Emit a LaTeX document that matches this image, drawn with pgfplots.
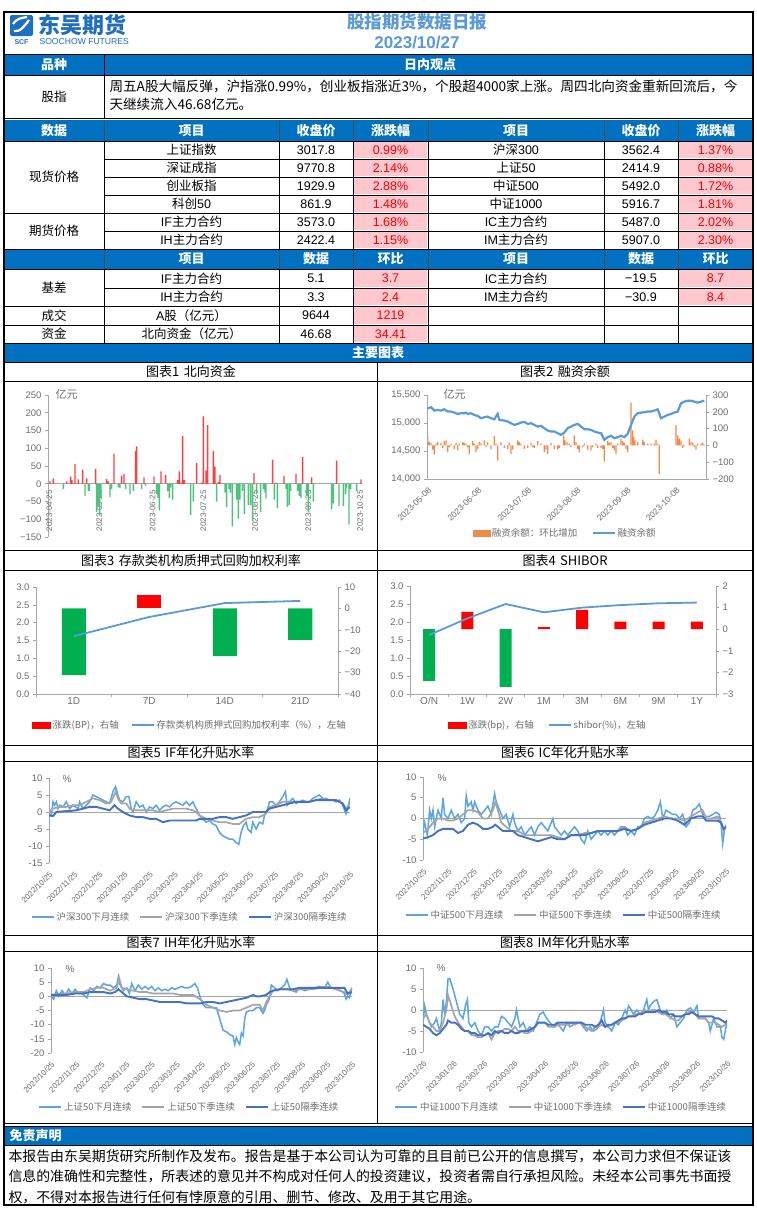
\documentclass[border=0pt]{standalone}
\usepackage{fontspec}
\usepackage{pgfplots}
\pgfplotsset{compat=1.18}
\setmainfont{Liberation Sans}
\newfontfamily\cjk{Noto Sans CJK SC}
\definecolor{hdr}{HTML}{0070C0}
\definecolor{pinkc}{HTML}{FFC7CE}
\definecolor{redt}{HTML}{FF0000}
\definecolor{titleblue}{HTML}{5B9BD5}
\definecolor{barred}{HTML}{FF0000}
\definecolor{bargreen}{HTML}{00B050}
\definecolor{cred}{HTML}{FF4040}
\definecolor{cgreen}{HTML}{4CC27E}
\definecolor{lineblue}{HTML}{5B9BD5}
\definecolor{ltblue}{HTML}{5AA5E2}
\definecolor{graytwo}{HTML}{A5A5A5}
\definecolor{dkblue}{HTML}{4472C4}
\definecolor{orangeb}{HTML}{F08A4B}
\definecolor{axgray}{HTML}{A6A6A6}
\definecolor{tickgray}{HTML}{6E6E6E}
\definecolor{logoblue}{HTML}{1F6FC0}
\pgfplotsset{
  base/.style={scale only axis, anchor=south west,
    axis line style={draw=axgray, line width=0.7pt},
    tick style={draw=axgray, line width=0.6pt},
    tick align=outside, major tick length=3pt,
    scaled y ticks=false, scaled x ticks=false,
    ticklabel style={font=\fontsize{9.5}{10}\selectfont, text=tickgray},
    legend cell align=left},
  lineleg/.style={legend image code/.code={\draw[##1] (0pt,0pt) -- (22pt,0pt);}},
}
\newcommand{\tf}{\fontsize{12.5}{14}\selectfont}
\newcommand{\hf}{\fontsize{13}{14}\selectfont\bfseries}
\begin{document}
\begin{tikzpicture}[x=1pt,y=1pt]
\fill[white] (0,0) rectangle (757,-1210);
% ---------- header ----------
\draw[line width=1.2pt] (4,-12) rectangle (753,-1205);
\draw[line width=0.8pt] (4,-54) -- (753,-54);
\fill[logoblue, rounded corners=2pt] (10,-15) rectangle (33,-36);
\draw[white, line width=2.2pt] (14,-31) .. controls (20,-33) and (26,-24) .. (29,-20);
\draw[white, line width=2.2pt] (13,-24) .. controls (17,-18) and (22,-18) .. (27,-17);
\node[text=logoblue, font=\fontsize{7}{7}\selectfont\bfseries] at (21.5,-42) {SCF};
\node[text=logoblue, font=\cjk\fontsize{22}{23}\selectfont\bfseries, anchor=west] at (35,-25) {东吴期货};
\node[text=logoblue, font=\fontsize{8.6}{9}\selectfont, anchor=west] at (36,-41.5) {SOOCHOW FUTURES};
\node[text=titleblue, font=\cjk\fontsize{17.5}{18}\selectfont\bfseries] at (417,-22) {股指期货数据日报};
\node[text=titleblue, font=\fontsize{17}{18}\selectfont\bfseries] at (417,-43) {2023/10/27};
% blue row 1
\fill[hdr] (4.6,-54.5) rectangle (752.4,-75);
\draw[line width=0.8pt] (4,-75) -- (753,-75);
\draw[line width=0.6pt] (104,-54) -- (104,-118);
\node[text=white, font=\cjk\hf] at (54,-65) {品种};
\node[text=white, font=\cjk\hf] at (430,-65) {日内观点};
\node[font=\cjk\tf] at (54,-97) {股指};
\node[font=\cjk\fontsize{13.6}{15}\selectfont, anchor=west] at (106,-86) {周五A股大幅反弹，沪指涨0.99\%，创业板指涨近3\%，个股超4000家上涨。周四北向资金重新回流后，今};
\node[font=\cjk\fontsize{13.6}{15}\selectfont, anchor=west] at (106,-104) {天继续流入46.68亿元。};
\draw[line width=0.8pt] (4,-118) -- (753,-118);
% ---------- table block 1 ----------
\fill[hdr] (4.6,-119.5) rectangle (752.4,-141);
\foreach \x in {104,279,353,428,604,678} \draw[line width=0.5pt, black!70] (\x,-119.5) -- (\x,-141);
\node[text=white, font=\cjk\hf] at (54,-130.5) {数据};
\node[text=white, font=\cjk\hf] at (191.5,-130.5) {项目};
\node[text=white, font=\cjk\hf] at (316,-130.5) {收盘价};
\node[text=white, font=\cjk\hf] at (390.5,-130.5) {涨跌幅};
\node[text=white, font=\cjk\hf] at (516,-130.5) {项目};
\node[text=white, font=\cjk\hf] at (641,-130.5) {收盘价};
\node[text=white, font=\cjk\hf] at (715.5,-130.5) {涨跌幅};
\foreach \ya/\yb in {141/159,159/177,177/195,195/213,213/231,231/249} {
  \fill[pinkc] (354,-\ya-0.8) rectangle (427.3,-\yb+0.8);
  \fill[pinkc] (679,-\ya-0.8) rectangle (752.3,-\yb+0.8);
}
\foreach \y in {141,159,177,195,213,231,249} \draw[line width=0.7pt] (104,-\y) -- (753,-\y);
\foreach \y in {141,213,249} \draw[line width=0.7pt] (4,-\y) -- (104,-\y);
\foreach \x in {104,279,353,428,604,678} \draw[line width=0.7pt] (\x,-141) -- (\x,-249);
\node[font=\cjk\tf] at (54,-177) {现货价格};
\node[font=\cjk\tf] at (54,-231) {期货价格};
\begin{scope}[every node/.style={font=\tf}]
\node at (191.5,-150) {\cjk 上证指数}; \node at (316,-150) {3017.8}; \node[text=redt] at (390.5,-150) {0.99\%};
\node at (516,-150) {{\cjk 沪深}300}; \node at (641,-150) {3562.4}; \node[text=redt] at (715.5,-150) {1.37\%};
\node at (191.5,-168) {\cjk 深证成指}; \node at (316,-168) {9770.8}; \node[text=redt] at (390.5,-168) {2.14\%};
\node at (516,-168) {{\cjk 上证}50}; \node at (641,-168) {2414.9}; \node[text=redt] at (715.5,-168) {0.88\%};
\node at (191.5,-186) {\cjk 创业板指}; \node at (316,-186) {1929.9}; \node[text=redt] at (390.5,-186) {2.88\%};
\node at (516,-186) {{\cjk 中证}500}; \node at (641,-186) {5492.0}; \node[text=redt] at (715.5,-186) {1.72\%};
\node at (191.5,-204) {{\cjk 科创}50}; \node at (316,-204) {861.9}; \node[text=redt] at (390.5,-204) {1.48\%};
\node at (516,-204) {{\cjk 中证}1000}; \node at (641,-204) {5916.7}; \node[text=redt] at (715.5,-204) {1.81\%};
\node at (191.5,-222) {IF{\cjk 主力合约}}; \node at (316,-222) {3573.0}; \node[text=redt] at (390.5,-222) {1.68\%};
\node at (516,-222) {IC{\cjk 主力合约}}; \node at (641,-222) {5487.0}; \node[text=redt] at (715.5,-222) {2.02\%};
\node at (191.5,-240) {IH{\cjk 主力合约}}; \node at (316,-240) {2422.4}; \node[text=redt] at (390.5,-240) {1.15\%};
\node at (516,-240) {IM{\cjk 主力合约}}; \node at (641,-240) {5907.0}; \node[text=redt] at (715.5,-240) {2.30\%};
\end{scope}
% ---------- table block 2 ----------
\fill[hdr] (4.6,-249.5) rectangle (752.4,-269);
\foreach \x in {104,279,353,428,604,678} \draw[line width=0.5pt, black!70] (\x,-249.5) -- (\x,-269);
\node[text=white, font=\cjk\hf] at (191.5,-259) {项目};
\node[text=white, font=\cjk\hf] at (316,-259) {数据};
\node[text=white, font=\cjk\hf] at (390.5,-259) {环比};
\node[text=white, font=\cjk\hf] at (516,-259) {项目};
\node[text=white, font=\cjk\hf] at (641,-259) {数据};
\node[text=white, font=\cjk\hf] at (715.5,-259) {环比};
\foreach \ya/\yb in {269/288,288/306,306/325,325/343} \fill[pinkc] (354,-\ya-0.8) rectangle (427.3,-\yb+0.8);
\foreach \ya/\yb in {269/288,288/306} \fill[pinkc] (679,-\ya-0.8) rectangle (752.3,-\yb+0.8);
\foreach \y in {269,288,306,325,343} \draw[line width=0.7pt] (104,-\y) -- (753,-\y);
\foreach \y in {269,306,325,343} \draw[line width=0.7pt] (4,-\y) -- (104,-\y);
\foreach \x in {104,279,353,428,604,678} \draw[line width=0.7pt] (\x,-269) -- (\x,-343);
\node[font=\cjk\tf] at (54,-287.5) {基差};
\node[font=\cjk\tf] at (54,-315.5) {成交};
\node[font=\cjk\tf] at (54,-334) {资金};
\begin{scope}[every node/.style={font=\tf}]
\node at (191.5,-278.5) {IF{\cjk 主力合约}}; \node at (316,-278.5) {5.1}; \node[text=redt] at (390.5,-278.5) {3.7};
\node at (516,-278.5) {IC{\cjk 主力合约}}; \node at (641,-278.5) {−19.5}; \node[text=redt] at (715.5,-278.5) {8.7};
\node at (191.5,-297) {IH{\cjk 主力合约}}; \node at (316,-297) {3.3}; \node[text=redt] at (390.5,-297) {2.4};
\node at (516,-297) {IM{\cjk 主力合约}}; \node at (641,-297) {−30.9}; \node[text=redt] at (715.5,-297) {8.4};
\node at (191.5,-315.5) {A{\cjk 股（亿元）}}; \node at (316,-315.5) {9644}; \node[text=redt] at (390.5,-315.5) {1219};
\node at (191.5,-334) {\cjk 北向资金（亿元）}; \node at (316,-334) {46.68}; \node[text=redt] at (390.5,-334) {34.41};
\end{scope}
% ---------- main charts bar ----------
\fill[hdr] (4.6,-343.5) rectangle (752.4,-362);
\node[text=white, font=\cjk\hf] at (378,-352.5) {主要图表};
% panel grid
\foreach \y in {362,381,550,570,745,761,935,951,1123} \draw[line width=0.8pt] (4,-\y) -- (753,-\y);
\draw[line width=0.8pt] (377.5,-362) -- (377.5,-1123);
\begin{scope}[every node/.style={font=\cjk\fontsize{13}{14}\selectfont}]
\node at (191,-371.5) {图表1\,\,北向资金};
\node at (565,-371.5) {图表2\,\,融资余额};
\node at (191,-560.5) {图表3\,\,存款类机构质押式回购加权利率};
\node at (565,-560.5) {图表4\,\,SHIBOR};
\node at (191,-753) {图表5\,\,IF年化升贴水率};
\node at (565,-753) {图表6\,\,IC年化升贴水率};
\node at (191,-943) {图表7\,\,IH年化升贴水率};
\node at (565,-943) {图表8\,\,IM年化升贴水率};
\end{scope}
% ---------- chart 1 ----------
\begin{axis}[base, at={(48pt,-537pt)}, width=314pt, height=142pt,
  xmin=144, xmax=1086, ymin=-150, ymax=250,
  axis y line*=left, axis x line*=middle,
  ytick={-150,-100,-50,0,50,100,150,200,250},
  yticklabels={−150,−100,−50,0,50,100,150,200,250},
  xtick={148,298,458,610,765,925,1080},
  xticklabels={2023-04-25,2023-05-25,2023-06-25,2023-07-25,2023-08-25,2023-09-25,2023-10-25},
  xticklabel style={rotate=90, anchor=east, font=\fontsize{8}{9}\selectfont, text=tickgray},
  x tick style={draw=none}]
\addplot[ybar, bar width=1.4pt, bar shift=0pt, fill=cred, draw=none] coordinates {
(150,7)(160,15)(200,7)(212,20)(216,10)(225,55)(235,12)(248,40)(260,15)(287,42)(320,13)(325,7)(342,85)(365,23)(372,28)(407,92)(410,105)(432,18)(462,20)(483,35)(497,25)(533,10)(538,35)(542,3)(548,135)(553,10)(590,58)(605,3)(610,190)(618,38)(623,165)(640,92)(645,48)(655,5)(660,25)(762,30)(818,68)(828,3)(852,22)(888,28)(908,75)(935,18)(1010,65)(1083,12)};
\addplot[ybar, bar width=1.4pt, bar shift=0pt, fill=cgreen, draw=none] coordinates {
(190,-15)(255,-35)(265,-20)(268,-20)(290,-80)(295,-60)(299,-90)(303,-40)(330,-38)(335,-15)(355,-10)(360,-12)(377,-15)(390,-30)(400,-20)(425,-15)(437,-5)(470,-30)(474,-40)(478,-75)(503,-20)(508,-40)(512,-10)(518,-45)(572,-88)(580,-50)(650,-50)(675,-25)(680,-65)(687,-15)(691,-25)(697,-120)(710,-45)(715,-98)(720,-45)(727,-20)(733,-85)(745,-60)(752,-60)(758,-105)(770,-30)(782,-80)(790,-15)(795,-25)(798,-42)(823,-45)(832,-68)(858,-15)(862,-65)(868,-60)(872,-20)(893,-20)(898,-35)(903,-40)(920,-35)(925,-80)(940,-50)(995,-72)(1000,-55)(1017,-62)(1030,-62)(1037,-30)(1040,-10)(1047,-115)(1052,-15)(1070,-20)};
\end{axis}
\node[anchor=west, text=tickgray, font=\cjk\fontsize{11}{12}\selectfont] at (52,-394) {亿元};
% ---------- chart 2 ----------
\begin{axis}[base, at={(427pt,-479pt)}, width=279pt, height=84pt,
  xmin=148, xmax=985, ymin=-200, ymax=300,
  axis y line*=right, axis x line*=bottom,
  ytick={-200,-100,0,100,200,300}, yticklabels={−200,−100,0,100,200,300},
  xtick={150,300,450,598,748,895},
  xticklabels={2023-05-08,2023-06-08,2023-07-08,2023-08-08,2023-09-08,2023-10-08},
  xticklabel style={rotate=45, anchor=north east, font=\fontsize{8.5}{9}\selectfont, text=tickgray},
  x tick style={draw=none}]
\addplot[ybar, bar width=1.3pt, bar shift=0pt, fill=orangeb, draw=none] coordinates {
(150,55)(155,20)(160,15)(165,-25)(170,-55)(175,10)(180,20)(190,15)(195,-15)(200,25)(205,30)(210,-40)(215,-10)(220,10)(230,-20)(235,15)(240,-30)(245,10)(255,20)(260,15)(265,10)(270,-10)(275,-50)(285,25)(290,10)(295,-40)(300,-20)(305,20)(310,15)(320,30)(325,-10)(330,20)(340,-20)(350,55)(355,10)(360,-90)(370,20)(380,-15)(390,-20)(395,15)(400,-50)(405,-25)(420,30)(425,20)(430,10)(440,-20)(450,-15)(460,15)(465,-10)(470,-15)(480,25)(490,10)(500,-40)(505,-25)(510,-50)(520,15)(530,-20)(540,-25)(545,-15)(558,60)(562,30)(568,20)(575,10)(580,-10)(590,60)(595,20)(600,-20)(605,-40)(615,-10)(620,10)(630,-25)(640,-30)(645,-10)(655,10)(660,-15)(670,-15)(675,-20)(680,-95)(690,25)(695,15)(700,20)(705,-15)(710,-30)(715,-50)(720,10)(730,40)(735,25)(740,15)(745,-20)(750,-40)(760,255)(765,90)(768,50)(772,30)(780,20)(795,35)(800,20)(810,10)(820,10)(830,10)(835,35)(840,10)(845,-170)(895,120)(900,60)(905,40)(910,30)(915,-15)(920,-5)(935,40)(940,20)(945,15)(950,-10)(955,-25)(960,10)(970,10)(975,15)(980,5)};
\end{axis}
\begin{axis}[base, at={(427pt,-479pt)}, width=279pt, height=84pt,
  xmin=148, xmax=985, ymin=14000, ymax=15500,
  axis y line*=left, axis x line=none,
  ytick={14000,14500,15000,15500}, yticklabels={{14,000},{14,500},{15,000},{15,500}},
  lineleg, legend columns=2,
  legend style={draw=none, at={(0.495,-0.643)}, anchor=center, font=\cjk\fontsize{9.5}{10}\selectfont, text=tickgray, /tikz/every even column/.append style={column sep=12pt}}]
\addlegendimage{legend image code/.code={\fill[orangeb] (0pt,-2.8pt) rectangle (17pt,2.8pt);}}
\addlegendentry{融资余额：环比增加}
\addplot[lineblue, line width=2.2pt] coordinates {
(150,15263)(160,15281)(170,15221)(180,15233)(190,15221)(200,15245)(210,15204)(220,15204)(230,15186)(240,15162)(250,15174)(260,15174)(265,15186)(270,15162)(280,15174)(290,15144)(300,15126)(310,15085)(320,15103)(330,15115)(340,15085)(350,15067)(360,15162)(365,15055)(380,15043)(390,15026)(400,14996)(410,14966)(420,14984)(430,15008)(440,15020)(450,14984)(460,14996)(470,14966)(480,14937)(490,14949)(500,14907)(510,14866)(520,14848)(530,14848)(540,14818)(550,14789)(560,14830)(570,14907)(580,14937)(590,14966)(600,14984)(610,14937)(620,14889)(630,14889)(640,14877)(650,14848)(660,14830)(670,14818)(680,14700)(690,14747)(700,14771)(710,14729)(720,14747)(730,14771)(740,14747)(750,14806)(760,14966)(770,15115)(780,15174)(790,15186)(800,15192)(810,15204)(820,15204)(830,15221)(840,15245)(850,15085)(860,15115)(870,15144)(880,15162)(890,15186)(900,15204)(910,15352)(920,15381)(930,15399)(940,15399)(950,15381)(960,15364)(970,15381)(980,15399)};
\addlegendentry{融资余额}
\end{axis}
\node[anchor=west, text=tickgray, font=\cjk\fontsize{11}{12}\selectfont] at (440,-394) {亿元};
% ---------- chart 3 ----------
\begin{axis}[base, at={(36pt,-694pt)}, width=302pt, height=107pt,
  xmin=-0.5, xmax=3.5, ymin=-40, ymax=10,
  axis y line*=right, axis x line*=bottom,
  ytick={-40,-30,-20,-10,0,10}, yticklabels={−40,−30,−20,−10,0,10},
  xtick={-0.5,0.5,1.5,2.5,3.5}, xticklabels={},
  extra x ticks={0,1,2,3}, extra x tick labels={1D,7D,14D,21D},
  extra x tick style={major tick length=0pt, ticklabel style={font=\fontsize{10}{11}\selectfont}}]
\addplot[ybar, bar width=24pt, bar shift=0pt, fill=bargreen, draw=none] coordinates {(0,-31.2)(2,-22.3)(3,-14.7)};
\addplot[ybar, bar width=24pt, bar shift=0pt, fill=barred, draw=none] coordinates {(1,6.4)};
\end{axis}
\begin{axis}[base, at={(36pt,-694pt)}, width=302pt, height=107pt,
  xmin=-0.5, xmax=3.5, ymin=0, ymax=3,
  axis y line*=left, axis x line=none,
  ytick={0,0.5,1,1.5,2,2.5,3}, yticklabels={0.0,0.5,1.0,1.5,2.0,2.5,3.0},
  lineleg, legend columns=2,
  legend style={draw=none, at={(0.51,-0.29)}, anchor=center, font=\cjk\fontsize{9.5}{10}\selectfont, text=tickgray, /tikz/every even column/.append style={column sep=10pt}}]
\addlegendimage{legend image code/.code={\fill[barred] (0pt,-3pt) rectangle (18pt,3pt);}}
\addlegendentry{涨跌(BP)，右轴}
\addplot[lineblue, line width=1.8pt] coordinates {(0,1.62)(1,2.16)(2,2.55)(3,2.61)};
\addlegendentry{存款类机构质押式回购加权利率（\%），左轴}
\end{axis}
% ---------- chart 4 ----------
\begin{axis}[base, at={(410pt,-694pt)}, width=306pt, height=108pt,
  xmin=-0.5, xmax=7.5, ymin=-3, ymax=2,
  axis y line*=right, axis x line*=bottom,
  ytick={-3,-2,-1,0,1,2}, yticklabels={−3,−2,−1,0,1,2},
  xtick={-0.5,0.5,1.5,2.5,3.5,4.5,5.5,6.5,7.5}, xticklabels={},
  extra x ticks={0,1,2,3,4,5,6,7}, extra x tick labels={O/N,1W,2W,1M,3M,6M,9M,1Y},
  extra x tick style={major tick length=0pt, ticklabel style={font=\fontsize{10}{11}\selectfont}}]
\addplot[ybar, bar width=12pt, bar shift=0pt, fill=bargreen, draw=none] coordinates {(0,-2.39)(2,-2.67)};
\addplot[ybar, bar width=12pt, bar shift=0pt, fill=barred, draw=none] coordinates {(1,0.8)(3,0.1)(4,0.9)(5,0.35)(6,0.35)(7,0.35)};
\end{axis}
\begin{axis}[base, at={(410pt,-694pt)}, width=306pt, height=108pt,
  xmin=-0.5, xmax=7.5, ymin=0, ymax=3,
  axis y line*=left, axis x line=none,
  ytick={0,0.5,1,1.5,2,2.5,3}, yticklabels={0.0,0.5,1.0,1.5,2.0,2.5,3.0},
  lineleg, legend columns=2,
  legend style={draw=none, at={(0.45,-0.29)}, anchor=center, font=\cjk\fontsize{9.5}{10}\selectfont, text=tickgray, /tikz/every even column/.append style={column sep=12pt}}]
\addlegendimage{legend image code/.code={\fill[barred] (0pt,-3pt) rectangle (18pt,3pt);}}
\addlegendentry{涨跌(bp)，右轴}
\addplot[lineblue, line width=1.8pt] coordinates {(0,1.64)(1,2.10)(2,2.50)(3,2.27)(4,2.40)(5,2.47)(6,2.52)(7,2.54)};
\addlegendentry{shibor(\%)，左轴}
\end{axis}
% ---------- chart 5 ----------
\begin{axis}[base, at={(49pt,-863pt)}, width=301pt, height=85pt,
  xmin=148, xmax=1052, ymin=-15, ymax=10,
  axis y line*=left, axis x line*=bottom, x axis line style={draw=none},
  ytick={-15,-10,-5,0,5,10}, yticklabels={-15,-10,-5,0,5,10},
  xtick={148,223.3,298.7,374,449.3,524.7,600,675.3,750.7,826,901.3,976.7,1052},
  xticklabels={2022/10/25,2022/11/25,2022/12/25,2023/01/25,2023/02/25,2023/03/25,2023/04/25,2023/05/25,2023/06/25,2023/07/25,2023/08/25,2023/09/25,2023/10/25},
  xticklabel style={rotate=45, anchor=north east, font=\fontsize{8}{9}\selectfont},
  x tick style={draw=none},
  lineleg, legend columns=3,
  legend style={draw=none, at={(0.468,-0.635)}, anchor=center, font=\cjk\fontsize{9.5}{10}\selectfont, text=tickgray, /tikz/every even column/.append style={column sep=8pt}}]
\addplot[axgray, line width=0.8pt, forget plot] coordinates {(148,0)(1052,0)};
\addplot[ltblue, line width=1.5pt] coordinates {(148,-0.5)(155,-1)(160,3)(165,2)(170,3)(175,1)(180,2)(190,1.5)(200,3)(210,1)(220,2)(235,1)(240,3)(250,1)(260,2)(270,3)(280,5)(290,4.5)(300,4)(310,3.5)(320,3)(330,2.5)(340,6)(348,7.5)(355,5)(360,3.5)(370,3)(380,4.5)(388,4.5)(395,1)(400,0)(410,3)(420,1.5)(430,2)(440,0)(450,1.5)(460,1)(470,2)(480,0.5)(490,1.5)(500,2)(510,1.5)(520,2.5)(530,3)(540,2.5)(550,2)(560,3)(570,2)(580,3)(590,1)(600,-1)(610,-2)(620,-3)(630,-2.5)(640,-3.5)(650,-4)(660,-6)(670,-7)(680,-7.5)(690,-8)(700,-8)(710,-9)(718,-9.5)(725,-6)(732,-4)(740,-3)(745,-5)(755,-6)(760,-3)(770,-5)(780,-3)(790,-3.5)(795,-1)(800,0)(805,1)(810,3)(820,3)(830,2)(840,3)(850,4.5)(858,6)(863,2)(870,3)(880,4)(890,2.5)(900,3)(910,3.5)(920,3)(930,3)(940,4)(950,4.5)(960,5)(970,4)(980,4)(990,3.5)(1000,3.5)(1010,3)(1020,3.5)(1030,2)(1040,-0.5)(1045,1)(1052,4)};
\addlegendentry{沪深300下月连续}
\addplot[graytwo, line width=1.7pt] coordinates {(148,0)(160,1)(180,1.5)(200,1.5)(220,2)(240,2)(260,3)(280,4)(300,3.5)(320,2.5)(335,3)(348,6)(355,4)(365,2.5)(380,2.5)(390,1)(400,0.5)(420,0.5)(440,0.5)(460,0.5)(480,0)(500,0.5)(520,1)(540,1)(560,1)(580,0.5)(590,0)(600,-1)(620,-2)(640,-2.5)(660,-3)(680,-3)(700,-3.5)(720,-3.5)(740,-2)(760,-1.5)(780,-1.5)(800,-0.5)(810,1.5)(830,2)(850,3)(870,3)(890,3)(910,3)(930,3)(950,3.5)(970,4)(990,3.5)(1010,3.5)(1030,2.5)(1040,1)(1052,2.5)};
\addlegendentry{沪深300下季连续}
\addplot[dkblue, line width=1.9pt] coordinates {(148,-1)(160,-1.2)(170,0)(190,0.2)(210,0.3)(230,0.5)(250,1)(270,1.5)(290,1.5)(310,1)(330,0.5)(345,2)(355,1)(370,0)(390,-1)(410,-1.5)(430,-1.5)(450,-2)(470,-2)(490,-3)(510,-2.5)(530,-2.5)(550,-2.5)(570,-2.5)(590,-2.5)(600,-2)(620,-2)(640,-2)(660,-1.5)(680,-1.5)(700,-2)(720,-1.5)(740,-1)(760,0)(780,0)(800,0)(810,1)(830,1.5)(850,2)(870,2.5)(890,3)(910,3)(930,3)(950,3.5)(970,3.5)(990,3.5)(1010,3.5)(1030,2.5)(1040,0.5)(1052,1.5)};
\addlegendentry{沪深300隔季连续}
\end{axis}
\node[text=tickgray, font=\fontsize{10}{11}\selectfont] at (67,-779) {\%};
% ---------- chart 6 ----------
\begin{axis}[base, at={(423pt,-860pt)}, width=303pt, height=83pt,
  xmin=135, xmax=1045, ymin=-10, ymax=10,
  axis y line*=left, axis x line*=bottom, x axis line style={draw=none},
  ytick={-10,-5,0,5,10}, yticklabels={-10,-5,0,5,10},
  xtick={135,210.8,286.7,362.5,438.3,514.2,590,665.8,741.7,817.5,893.3,969.2,1045},
  xticklabels={2022/10/25,2022/11/25,2022/12/25,2023/01/25,2023/02/25,2023/03/25,2023/04/25,2023/05/25,2023/06/25,2023/07/25,2023/08/25,2023/09/25,2023/10/25},
  xticklabel style={rotate=45, anchor=north east, font=\fontsize{8}{9}\selectfont},
  x tick style={draw=none},
  lineleg, legend columns=3,
  legend style={draw=none, at={(0.465,-0.66)}, anchor=center, font=\cjk\fontsize{9.5}{10}\selectfont, text=tickgray, /tikz/every even column/.append style={column sep=8pt}}]
\addplot[axgray, line width=0.8pt, forget plot] coordinates {(135,0)(1045,0)};
\addplot[ltblue, line width=1.5pt] coordinates {(135,-3)(140,-1)(148,-4)(155,2)(160,0)(165,2)(170,-2)(175,0)(180,2)(190,0)(195,5)(200,1)(210,0)(220,2)(230,0)(240,1)(250,-1)(260,0)(265,5.5)(270,3)(280,4)(285,2)(290,4)(300,2)(310,1)(320,2)(330,3)(340,1)(350,6)(355,4)(365,2)(375,0)(385,1)(395,-2)(405,1)(410,-1)(420,-3)(430,-2)(440,-4)(450,-3)(460,-2)(470,-4)(480,-2)(490,-1)(500,-2)(510,-3)(520,-1)(525,0)(530,-2)(540,-3)(550,-4)(560,-3)(570,-4)(580,-3)(590,-2)(600,-3)(610,-5)(620,-6)(630,-3)(640,-5)(650,-4)(660,-3)(670,-4)(680,-3)(690,-4)(700,-3)(710,-4)(720,-3)(730,-2)(740,-2)(750,-4)(760,-3)(770,-4)(780,-2)(790,-2)(800,0)(810,0.5)(820,0)(830,0.5)(840,2)(848,4)(855,0)(865,2)(875,1.5)(885,1)(895,1)(905,0)(915,1)(925,-2)(935,-1)(945,2)(955,2.5)(965,3.5)(975,1)(985,0.5)(995,0.5)(1005,1)(1015,1.5)(1025,1)(1030,-1)(1035,-6)(1040,-3)(1045,-1.5)};
\addlegendentry{中证500下月连续}
\addplot[graytwo, line width=1.7pt] coordinates {(135,-3.5)(150,-2.5)(165,-1)(180,0)(195,0)(210,-0.5)(225,-0.5)(240,0)(255,1)(270,2)(285,2)(300,1.5)(315,0)(330,0)(345,2)(352,4)(360,2)(370,-1)(385,-2)(400,-3)(420,-3)(440,-4)(460,-4)(480,-4)(500,-4)(520,-4)(540,-4.5)(560,-5)(580,-4)(600,-4)(620,-3.5)(640,-3.5)(660,-3)(680,-3)(700,-3)(720,-3)(740,-2)(760,-3)(780,-2.5)(800,-1)(820,-0.5)(840,0)(860,0.5)(880,0)(900,0)(920,-0.5)(940,0.5)(960,1.5)(975,2)(985,0)(1000,0)(1020,0.5)(1030,-1)(1038,-3)(1045,-2)};
\addlegendentry{中证500下季连续}
\addplot[dkblue, line width=1.9pt] coordinates {(135,-4.8)(150,-4.5)(165,-4)(180,-3)(195,-2.5)(210,-2.5)(225,-2.5)(240,-3.5)(255,-3)(270,-1.5)(285,-1)(300,-1.5)(315,-2.5)(330,-2.5)(345,-2)(352,-1.5)(360,-2)(375,-3)(390,-3)(405,-3)(420,-4)(440,-4.5)(460,-5)(480,-5.5)(500,-5)(520,-4.5)(540,-5)(560,-5)(580,-4)(600,-4)(620,-4)(640,-3.5)(660,-3)(680,-3)(700,-3)(720,-3)(740,-2.5)(760,-3)(780,-2.5)(800,-1.5)(820,-1)(840,-0.5)(860,0)(880,0)(900,-0.5)(920,-1.5)(940,0)(960,0.5)(975,0.5)(985,-0.5)(1000,-0.5)(1020,-0.5)(1030,-1)(1038,-2.5)(1045,-2)};
\addlegendentry{中证500隔季连续}
\end{axis}
\node[text=tickgray, font=\fontsize{10}{11}\selectfont] at (442,-778) {\%};
% ---------- chart 7 ----------
\begin{axis}[base, at={(51pt,-1053pt)}, width=301pt, height=85pt,
  xmin=152, xmax=1058, ymin=-20, ymax=10,
  axis y line*=left, axis x line*=bottom, x axis line style={draw=none},
  ytick={-20,-15,-10,-5,0,5,10}, yticklabels={-20,-15,-10,-5,0,5,10},
  xtick={152,227.5,303,378.5,454,529.5,605,680.5,756,831.5,907,982.5,1058},
  xticklabels={2022/10/25,2022/11/25,2022/12/25,2023/01/25,2023/02/25,2023/03/25,2023/04/25,2023/05/25,2023/06/25,2023/07/25,2023/08/25,2023/09/25,2023/10/25},
  xticklabel style={rotate=45, anchor=north east, font=\fontsize{8}{9}\selectfont},
  x tick style={draw=none},
  lineleg, legend columns=3,
  legend style={draw=none, at={(0.46,-0.635)}, anchor=center, font=\cjk\fontsize{9.5}{10}\selectfont, text=tickgray, /tikz/every even column/.append style={column sep=8pt}}]
\addplot[axgray, line width=0.8pt, forget plot] coordinates {(152,0)(1058,0)};
\addplot[ltblue, line width=1.5pt] coordinates {(152,0)(160,-1)(168,2)(175,0)(185,2)(195,0.5)(205,2.5)(215,1)(225,2.5)(235,1)(245,1)(260,-0.5)(270,3)(280,2)(290,3.5)(300,3)(310,4.5)(320,4)(330,4)(340,3)(350,4)(355,7)(360,4)(370,2)(380,3)(388,1)(395,4.5)(405,2)(415,4)(425,2.5)(435,3.5)(445,2.5)(455,3.5)(465,2)(475,3)(485,2)(495,2.5)(505,2)(515,3)(525,2.5)(535,3)(545,3.5)(555,3)(565,3)(575,3.5)(585,4.5)(593,3)(600,0)(610,-3)(620,-4)(630,-4)(640,-4)(650,-4)(660,-8)(670,-12)(680,-12.5)(690,-13.5)(700,-14)(705,-17)(710,-14.5)(715,-16)(720,-17)(725,-13)(730,-14)(735,-8)(740,-5.5)(750,-5)(760,-5)(770,-4)(780,-4)(790,-6)(795,-5)(800,-3)(805,-2)(810,-0.5)(815,4)(825,3)(835,2)(845,3)(855,4)(862,6)(870,3)(880,2)(890,1.5)(900,3)(915,2)(930,2.5)(945,3)(960,3.5)(975,3)(985,5)(995,3)(1010,2.5)(1025,2)(1035,1)(1040,-1)(1045,0)(1050,-0.5)(1058,3)};
\addlegendentry{上证50下月连续}
\addplot[graytwo, line width=1.7pt] coordinates {(152,0.5)(175,0.8)(200,1)(225,1.5)(250,1.5)(270,2.5)(290,3)(310,3)(330,2)(350,3)(357,6.5)(365,3)(380,2.5)(400,2)(420,1.5)(440,1.5)(460,1)(480,1)(500,1)(520,1)(540,0.5)(560,0.5)(580,0.5)(600,-1)(620,-3)(640,-4)(660,-5)(680,-5.5)(700,-5)(720,-5)(740,-4)(760,-3)(780,-3)(790,-5)(800,-2)(810,0)(820,2)(840,2.5)(860,2.5)(880,2)(900,2.5)(920,2.5)(940,2.5)(960,3)(980,3.5)(1000,3)(1020,2)(1035,1.5)(1045,0.5)(1058,3)};
\addlegendentry{上证50下季连续}
\addplot[dkblue, line width=1.9pt] coordinates {(152,0.5)(175,0.5)(200,0.5)(225,1)(250,1)(270,1.5)(290,1.5)(310,1.5)(330,1)(345,1.5)(355,2.5)(365,1.5)(380,0)(400,-0.5)(420,-1)(440,-1)(460,-1.5)(480,-2)(500,-2)(520,-2)(540,-2)(560,-2.5)(580,-2.5)(600,-2.5)(620,-2)(640,-2)(660,-2.5)(680,-2)(700,-1.5)(720,-1)(740,-0.5)(760,0.5)(770,0)(780,0)(800,0.5)(810,1.5)(820,2)(840,2.5)(860,2.5)(880,2.5)(900,3)(920,3)(940,3)(960,3)(980,3)(1000,3)(1020,3)(1035,3)(1045,1)(1058,1.5)};
\addlegendentry{上证50隔季连续}
\end{axis}
\node[text=tickgray, font=\fontsize{10}{11}\selectfont] at (70,-969) {\%};
% ---------- chart 8 ----------
\begin{axis}[base, at={(423pt,-1052pt)}, width=304pt, height=84pt,
  xmin=135, xmax=1045, ymin=-10, ymax=10,
  axis y line*=left, axis x line*=bottom, x axis line style={draw=none},
  ytick={-10,-5,0,5,10}, yticklabels={-10,-5,0,5,10},
  xtick={135,226,317,408,499,590,681,772,863,954,1045},
  xticklabels={2022/12/26,2023/01/26,2023/02/26,2023/03/26,2023/04/26,2023/05/26,2023/06/26,2023/07/26,2023/08/26,2023/09/26,2023/10/26},
  xticklabel style={rotate=45, anchor=north east, font=\fontsize{8}{9}\selectfont},
  x tick style={draw=none},
  lineleg, legend columns=3,
  legend style={draw=none, at={(0.455,-0.655)}, anchor=center, font=\cjk\fontsize{9.5}{10}\selectfont, text=tickgray, /tikz/every even column/.append style={column sep=8pt}}]
\addplot[axgray, line width=0.8pt, forget plot] coordinates {(135,0)(1045,0)};
\addplot[ltblue, line width=1.5pt] coordinates {(135,-3)(140,1)(145,-1)(150,-2)(160,-4)(170,-3)(175,-2)(185,-5)(190,-3)(195,2.5)(200,-1)(205,2)(210,7.5)(215,7.5)(225,5)(235,2)(245,-1)(255,-2)(262,1)(268,2.5)(272,-3)(280,-4)(290,-3)(300,-5)(310,-6)(320,-4)(330,-4)(340,-5)(350,-4)(360,-4)(370,-1.5)(380,-2)(390,-3)(400,-4)(410,-2)(415,0)(425,-4)(435,-3)(445,-5)(455,-4)(465,-5)(475,-3)(485,-1)(495,-0.5)(505,-2)(515,-3)(525,-4)(535,-3)(545,-4)(555,-5)(565,-3)(575,-4)(585,-3.5)(595,-3)(605,-3)(615,-4)(625,-5)(635,-4)(645,-5)(655,-4.5)(665,-3)(675,0)(680,-3)(690,-4)(700,-5)(710,-3)(720,-3.5)(730,-2)(740,0)(745,-1)(750,1)(755,0.5)(765,-1)(775,0)(785,-1)(795,0)(805,2.5)(810,0)(815,1)(825,2)(835,2.5)(845,0)(855,-1)(865,0)(875,-2)(885,-1)(895,-4)(905,-3)(915,-2)(925,0)(935,0.5)(945,-0.5)(955,1)(960,-2)(970,-2)(980,-2)(990,-3)(995,-5)(1005,-2)(1015,-4)(1025,-4)(1030,-6.5)(1035,-7)(1040,-5)(1045,-3)};
\addlegendentry{中证1000下月连续}
\addplot[graytwo, line width=1.7pt] coordinates {(135,-2)(145,-1)(155,-3)(165,-4)(175,-5)(185,-5)(195,-3)(205,0)(210,3.5)(220,1)(230,-1.5)(240,-3)(250,-4)(260,-5)(270,-5)(280,-6)(290,-6)(300,-6.5)(310,-6.5)(320,-6)(330,-5.5)(340,-7)(350,-5.5)(360,-5)(370,-5)(380,-4.5)(390,-4.5)(400,-5)(410,-4)(420,-5)(430,-5)(440,-5.5)(450,-5.5)(460,-5)(470,-4)(480,-3)(490,-3)(500,-3)(510,-4)(520,-4)(530,-4)(540,-3.5)(550,-3.5)(560,-3.5)(570,-3.5)(580,-3)(590,-3.5)(600,-3)(610,-3)(620,-4)(630,-4.5)(640,-5)(650,-4)(660,-4)(670,-3.5)(680,-4)(690,-4)(700,-3.5)(710,-3)(720,-3)(730,-2.5)(740,-2)(750,-1.5)(760,-1.5)(770,-1)(780,-1)(790,-0.5)(800,0)(810,-0.5)(820,0)(830,0)(840,-0.5)(850,-1)(860,-1)(870,-1.5)(880,-2)(890,-2.5)(900,-2.5)(910,-1.5)(920,-1)(930,-0.5)(940,0)(950,-1)(960,-2)(970,-2)(980,-2)(990,-3)(1000,-3)(1010,-3)(1020,-3.5)(1030,-4)(1040,-3.5)(1045,-3)};
\addlegendentry{中证1000下季连续}
\addplot[dkblue, line width=1.9pt] coordinates {(135,-3.5)(145,-4)(155,-4.5)(165,-5.5)(175,-6)(185,-5.5)(195,-4.5)(205,-3.5)(210,-2.5)(220,-3)(230,-3)(240,-3.5)(250,-4.5)(260,-5)(270,-5)(280,-5.5)(290,-5.5)(300,-6)(310,-6)(320,-6)(330,-5.5)(340,-6)(350,-5)(360,-5.5)(370,-5)(380,-5.5)(390,-5.5)(400,-5)(410,-5.5)(420,-5.5)(430,-5)(440,-5)(450,-5)(460,-4.5)(470,-4)(480,-3)(490,-3)(500,-3)(510,-3.5)(520,-3.5)(530,-3.5)(540,-3)(550,-3)(560,-3)(570,-3)(580,-3)(590,-3)(600,-3)(610,-3)(620,-3.5)(630,-3.5)(640,-3.5)(650,-4)(660,-3.5)(670,-2.5)(680,-4)(690,-3.5)(700,-3.5)(710,-3)(720,-2.5)(730,-2)(740,-2)(750,-1.5)(760,-1.5)(770,-1.5)(780,-1)(790,-1)(800,-0.5)(810,-0.5)(820,-0.5)(830,-0.5)(840,0)(850,-0.5)(860,-0.5)(870,-1)(880,-1)(890,-1.5)(900,-1.5)(910,-1.5)(920,-1)(930,-1)(940,-0.5)(950,-1)(960,-1.5)(970,-1.5)(980,-1.5)(990,-1.5)(1000,-1.5)(1010,-2)(1020,-2)(1030,-2.5)(1040,-3)(1045,-2.5)};
\addlegendentry{中证1000隔季连续}
\end{axis}
\node[text=tickgray, font=\fontsize{10}{11}\selectfont] at (441,-968) {\%};
% ---------- disclaimer ----------
\fill[hdr] (4.6,-1126) rectangle (752.4,-1145);
\draw[line width=0.8pt] (4,-1126) -- (753,-1126);
\draw[line width=0.8pt] (4,-1145) -- (753,-1145);
\node[anchor=west, text=white, font=\cjk\hf] at (6,-1135.5) {免责声明};
\begin{scope}[every node/.style={anchor=west, font=\cjk\fontsize{13.9}{15}\selectfont}]
\node at (5,-1156) {本报告由东吴期货研究所制作及发布。报告是基于本公司认为可靠的且目前已公开的信息撰写，本公司力求但不保证该};
\node at (5,-1176.5) {信息的准确性和完整性，所表述的意见并不构成对任何人的投资建议，投资者需自行承担风险。未经本公司事先书面授};
\node at (5,-1197) {权，不得对本报告进行任何有悖原意的引用、删节、修改、及用于其它用途。};
\end{scope}
\end{tikzpicture}
\end{document}
